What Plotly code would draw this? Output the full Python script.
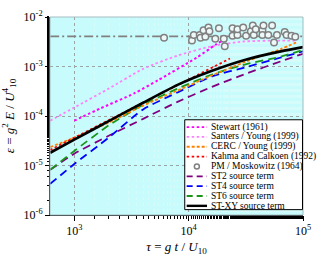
import plotly.graph_objects as go

# ---------------- data ----------------
tau_grid = [616, 1000, 2000, 4000, 8000, 16000, 32000, 64000, 100000]

eps_stxy = [1.81e-5, 3.34e-5, 7.85e-5, 1.85e-4, 4.25e-4, 8.2e-4, 1.39e-3, 2.02e-3, 2.46e-3]
eps_st6 = [8.2e-6, 1.97e-5, 6.45e-5, 1.69e-4, 3.57e-4, 6.89e-4, 1.12e-3, 1.58e-3, 2.16e-3]
eps_st4 = [4.25e-6, 1.07e-5, 3.65e-5, 1.36e-4, 2.99e-4, 6.31e-4, 9.77e-4, 1.52e-3, 2.02e-3]
eps_st2 = [8.2e-6, 1.73e-5, 3.98e-5, 8.77e-5, 1.93e-4, 3.89e-4, 7.2e-4, 1.27e-3, 1.81e-3]

tau_cerc = [616, 1000, 2000, 4000, 8000, 16000, 32000, 64000, 87000]
eps_cerc = [2.35e-5, 3.65e-5, 7.36e-5, 1.62e-4, 3.27e-4, 6.59e-4, 1.27e-3, 2.25e-3, 3.06e-3]

tau_kahma = [616, 4000, 23000]
eps_kahma = [2.06e-5, 1.85e-4, 1.45e-3]

tau_stewart = [1000, 1690, 3335, 5420, 11800, 17400, 22000]
eps_stewart = [8.04e-5, 1.42e-4, 2.86e-4, 5.3e-4, 1.52e-3, 2.8e-3, 3.81e-3]

tau_santers = [616, 1000, 2000, 4000, 8000, 16000, 30000, 60000, 85000]
eps_santers = [8.04e-5, 1.48e-4, 3.57e-4, 8.96e-4, 1.66e-3, 2.57e-3, 3.2e-3, 3.34e-3, 3.34e-3]

tau_pm_limit = [616, 100000]
eps_pm_limit = [4.07e-3, 4.07e-3]

tau_pm = [6100, 10700, 11100, 12500, 12700, 13500, 14000, 14900, 15200, 17100,
          18400, 20300, 20700, 24200, 24200, 26700, 26700, 30000, 31800, 35000,
          36400, 37100, 38600, 44200, 45100, 44200, 49700, 53700, 55800, 59200,
          69200, 71900, 79300, 85600]
eps_pm = [3.81e-3, 3.34e-3, 4.34e-3, 4.34e-3, 3.81e-3, 5.41e-3, 3.98e-3, 6.17e-3, 5.18e-3, 3.65e-3,
          5.91e-3, 3.65e-3, 2.57e-3, 5.91e-3, 4.16e-3, 4.34e-3, 5.65e-3, 6.17e-3, 4.16e-3, 5.18e-3,
          6.74e-3, 4.34e-3, 5.65e-3, 5.41e-3, 6.74e-3, 4.34e-3, 4.34e-3, 6.74e-3, 3.06e-3, 4.34e-3,
          4.96e-3, 4.34e-3, 4.16e-3, 3.98e-3]

y_tickvals = [1e-6, 1e-5, 1e-4, 1e-3, 1e-2]
y_ticktext = ["10<sup>-6</sup>", "10<sup>-5</sup>", "10<sup>-4</sup>", "10<sup>-3</sup>", "10<sup>-2</sup>"]
x_tickvals = [1e3, 1e4, 1e5]
x_ticktext = ["10<sup>3</sup>", "10<sup>4</sup>", "10<sup>5</sup>"]

legend_names = ["Stewart (1961)", "Santers / Young (1999)", "CERC / Young (1999)",
                "Kahma and Calkoen (1992)", "PM / Moskowitz (1964)", "ST2 source term",
                "ST4 source term", "ST6 source term", "ST-XY source term"]

# ---------------- styles ----------------
C_STEWART = "#ff00ff"
C_SANTERS = "#ff80ff"
C_CERC = "#ff8000"
C_KAHMA = "#ff0000"
C_PM = "#808080"
C_ST2 = "#800080"
C_ST4 = "#0000ff"
C_ST6 = "#1a961a"
C_XY = "#000000"
FONT = "Liberation Serif"

DOT_SHORT = "2.5px,2.5px"
DOT_ORANGE = "3px,2px"
DASH_LONG = "8px,5px"

fig = go.Figure()

def line(x, y, color, dash, width):
    fig.add_trace(go.Scatter(x=x, y=y, mode="lines", showlegend=False, hoverinfo="skip",
                             line=dict(color=color, dash=dash, width=width, shape="spline", smoothing=0.6)))

# PM limit dash-dot
fig.add_trace(go.Scatter(x=tau_pm_limit, y=eps_pm_limit, mode="lines", showlegend=False,
                         line=dict(color=C_PM, width=1.6, dash="9px,3px,2px,3px")))
line(tau_santers, eps_santers, C_SANTERS, DOT_SHORT, 1.8)
line(tau_stewart, eps_stewart, C_STEWART, DOT_SHORT, 2.0)
line(tau_grid, eps_st2, C_ST2, DASH_LONG, 1.8)
line(tau_grid, eps_st4, C_ST4, DASH_LONG, 1.8)
line(tau_grid, eps_st6, C_ST6, DASH_LONG, 1.8)
line(tau_cerc, eps_cerc, C_CERC, DOT_ORANGE, 1.8)
fig.add_trace(go.Scatter(x=tau_kahma, y=eps_kahma, mode="lines", showlegend=False,
                         line=dict(color=C_KAHMA, dash=DOT_SHORT, width=1.8)))
line(tau_grid, eps_stxy, C_XY, "solid", 2.6)
fig.add_trace(go.Scatter(x=tau_pm, y=eps_pm, mode="markers", showlegend=False,
                         marker=dict(symbol="circle", size=6.5, color="#eef8f8",
                                     line=dict(color=C_PM, width=1.5))))

# ---------------- layout ----------------
L, R, T, B = 48, 11, 9, 42
W, H = 320, 261
pw, ph = W - L - R, H - T - B

def px_x(px):
    return (px - L) / pw

def px_y(py):
    return (H - B - py) / ph

fig.update_layout(
    width=W, height=H,
    margin=dict(l=L, r=R, t=T, b=B),
    paper_bgcolor="white", plot_bgcolor="#c8fcfc",
    font=dict(family=FONT, size=12, color="black"),
    showlegend=False,
)
fig.update_xaxes(
    type="log", range=[2.788, 5.0],
    tickvals=x_tickvals, ticktext=x_ticktext,
    ticks="outside", ticklen=5, tickcolor="black", tickfont=dict(family=FONT, size=12),
    showline=True, linecolor="black", linewidth=1,
    showgrid=True, gridcolor="#9aa6a6", griddash="dot", gridwidth=1,
    minor=dict(ticks="outside", ticklen=3, tickcolor="black", showgrid=True,
               gridcolor="#d6fbfb", gridwidth=1),
    title=dict(text="<i>τ</i> = <i>g t</i> / <i>U</i><sub>10</sub>",
               font=dict(family=FONT, size=13), standoff=4),
    zeroline=False,
)
fig.update_yaxes(
    type="log", range=[-6, -2],
    tickvals=y_tickvals, ticktext=y_ticktext,
    ticks="outside", ticklen=4, tickcolor="black", tickfont=dict(family=FONT, size=12),
    showline=True, linecolor="black", linewidth=1,
    showgrid=True, gridcolor="#9aa6a6", griddash="dot", gridwidth=1,
    minor=dict(ticks="outside", ticklen=2.5, tickcolor="black", showgrid=False),
    title=dict(text="<i>ε</i> = <i>g</i><sup>2</sup> <i>E</i> / <i>U</i><sup>4</sup><sub>10</sub>",
               font=dict(family=FONT, size=13), standoff=6),
    zeroline=False,
)

shapes = []
# top/right frame
shapes.append(dict(type="rect", xref="paper", yref="paper", x0=0, x1=1, y0=0, y1=1,
                   line=dict(color="#a6bcc2", width=1), fillcolor="rgba(0,0,0,0)", layer="above"))
# legend box
shapes.append(dict(type="rect", xref="paper", yref="paper",
                   x0=px_x(187), x1=px_x(308.5), y0=px_y(213.3), y1=px_y(118),
                   line=dict(color="black", width=1), fillcolor="white", layer="above"))

legend_styles = [
    ("line", C_STEWART, DOT_SHORT, 1.8),
    ("line", C_SANTERS, DOT_SHORT, 1.8),
    ("line", C_CERC, DOT_ORANGE, 1.8),
    ("line", C_KAHMA, DOT_SHORT, 1.8),
    ("marker", C_PM, None, 1.5),
    ("line", C_ST2, "6px,4px", 1.8),
    ("line", C_ST4, "6px,4px", 1.8),
    ("line", C_ST6, "6px,4px", 1.8),
    ("line", C_XY, "solid", 2.4),
]
annotations = []
for i, (name, st) in enumerate(zip(legend_names, legend_styles)):
    py = 125.7 + 10.45 * i
    kind, color, dash, wdt = st
    if kind == "line":
        shapes.append(dict(type="line", xref="paper", yref="paper",
                           x0=px_x(189), x1=px_x(210), y0=px_y(py), y1=px_y(py),
                           line=dict(color=color, dash=dash, width=wdt), layer="above"))
    else:
        shapes.append(dict(type="circle", xref="paper", yref="paper",
                           xsizemode="pixel", ysizemode="pixel",
                           xanchor=px_x(199.5), yanchor=px_y(py),
                           x0=-2.5, x1=2.5, y0=-2.5, y1=2.5,
                           line=dict(color=color, width=wdt), fillcolor="white", layer="above"))
    annotations.append(dict(xref="paper", yref="paper", x=px_x(212.5), y=px_y(py),
                            xanchor="left", yanchor="middle", showarrow=False,
                            text=name, font=dict(family=FONT, size=9.5, color="black")))

fig.update_layout(shapes=shapes, annotations=annotations)

fig.write_html("out.html", config={"displayModeBar": False},
               post_script="document.body.style.margin='0';document.body.style.overflow='hidden';")
